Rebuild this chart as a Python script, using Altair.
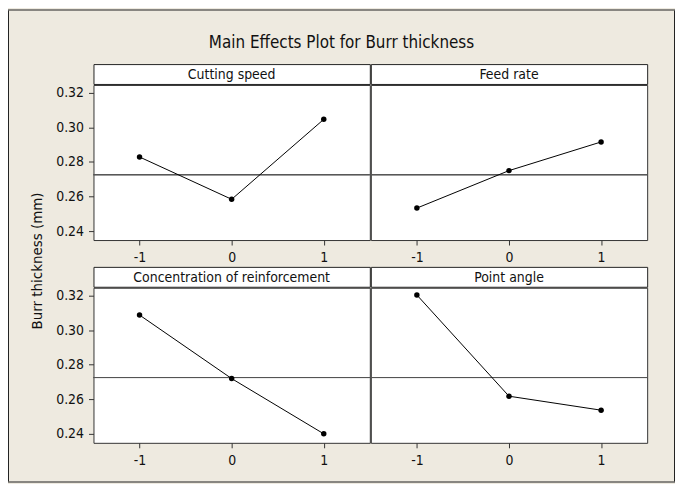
import altair as alt
import pandas as pd

# ---- data ----
factors = ["Cutting speed", "Feed rate", "Concentration of reinforcement", "Point angle"]
levels = [-1, 0, 1]
cutting_speed = [0.2829, 0.2584, 0.3047]
feed_rate = [0.2533, 0.2750, 0.2916]
concentration = [0.3088, 0.2720, 0.2400]
point_angle = [0.3204, 0.2618, 0.2537]
grand_mean = 0.2726
y_ticks = [0.24, 0.26, 0.28, 0.30, 0.32]
x_ticks = [-1, 0, 1]
title_text = "Main Effects Plot for Burr thickness"
y_title = "Burr thickness (mm)"

# ---- styling ----
BG = "#EEEAE0"
FONT = "DejaVu Sans Condensed, Liberation Sans Narrow, DejaVu Sans, sans-serif"
PW, PH, HH = 278, 156, 20
Y_DOMAIN = [0.2348, 0.3246]
X_DOMAIN = [-1.5, 1.5]


def panel(name, values, show_y):
    df = pd.DataFrame({"level": levels, "mean": values, "gm": [grand_mean] * len(levels)})
    xaxis = alt.Axis(values=x_ticks, labelExpr="'' + datum.value", title=None, grid=False,
                     domain=False, tickSize=5, tickColor="#333", labelPadding=6,
                     labelFontSize=14, labelColor="#111", labelFont=FONT)
    yaxis = (alt.Axis(values=y_ticks, format=".2f", title=None, grid=False, domain=False,
                      tickSize=5, tickColor="#333", labelPadding=5, labelFontSize=14,
                      labelColor="#111", labelFont=FONT) if show_y else None)
    xs = alt.Scale(domain=X_DOMAIN, nice=False, zero=False)
    ys = alt.Scale(domain=Y_DOMAIN, nice=False, zero=False)
    base = alt.Chart(df)
    ref = base.mark_rule(color="#555", strokeWidth=1).encode(
        y=alt.Y("gm:Q", scale=ys, axis=yaxis))
    line = base.mark_line(color="black", strokeWidth=1).encode(
        x=alt.X("level:Q", scale=xs, axis=xaxis), y=alt.Y("mean:Q", scale=ys, axis=yaxis))
    pts = base.mark_circle(color="black", size=30, opacity=1).encode(
        x=alt.X("level:Q", scale=xs, axis=xaxis), y=alt.Y("mean:Q", scale=ys, axis=yaxis))
    plot = alt.layer(ref, line, pts).properties(
        width=PW, height=PH, view=alt.ViewBackground(fill="white", stroke="#333", strokeWidth=1))
    hdr = alt.Chart(pd.DataFrame({"f": [name]})).mark_text(
        fontSize=14, font=FONT, color="#111", baseline="middle", align="center").encode(
        text="f:N", x=alt.value(PW / 2), y=alt.value(HH / 2 + 1)).properties(
        width=PW, height=HH, view=alt.ViewBackground(fill="white", stroke="#222", strokeWidth=1))
    return alt.vconcat(hdr, plot, spacing=-2)


def strip(w, h):
    return alt.Chart(pd.DataFrame({"a": [0]})).mark_rect(color="#222").encode(
        x=alt.value(0), x2=alt.value(w), y=alt.value(0), y2=alt.value(h)).properties(
        width=w, height=h)


row1 = alt.hconcat(panel(factors[0], cutting_speed, True), panel(factors[1], feed_rate, False), spacing=-2)
row2 = alt.hconcat(panel(factors[2], concentration, True), panel(factors[3], point_angle, False), spacing=-2)
grid = alt.vconcat(row1, row2, spacing=0)

# y-axis label width grew (font 14, padding 5): shrink the left spacer to keep panels at x=93
ytitle = alt.Chart(pd.DataFrame({"t": [y_title]})).mark_text(
    fontSize=15, font=FONT, color="#111", angle=270, baseline="middle", align="center").encode(
    text="t:N", x=alt.value(28), y=alt.value(198)).properties(width=46, height=378)

title = alt.Chart(pd.DataFrame({"t": [title_text]})).mark_text(
    fontSize=17, font=FONT, color="#111", baseline="middle", align="center").encode(
    text="t:N", x=alt.value(334.5), y=alt.value(33)).properties(width=669, height=53)

inner = alt.vconcat(title, alt.hconcat(ytitle, grid, spacing=0), spacing=0)
middle = alt.hconcat(strip(1, 474), inner, strip(1, 474), spacing=0)
chart = alt.vconcat(strip(671, 1), middle, strip(671, 1), spacing=0).properties(
    padding=0, background=BG).configure_view(stroke=None)

chart.save("out.html", embed_options={"renderer": "svg", "actions": False})
